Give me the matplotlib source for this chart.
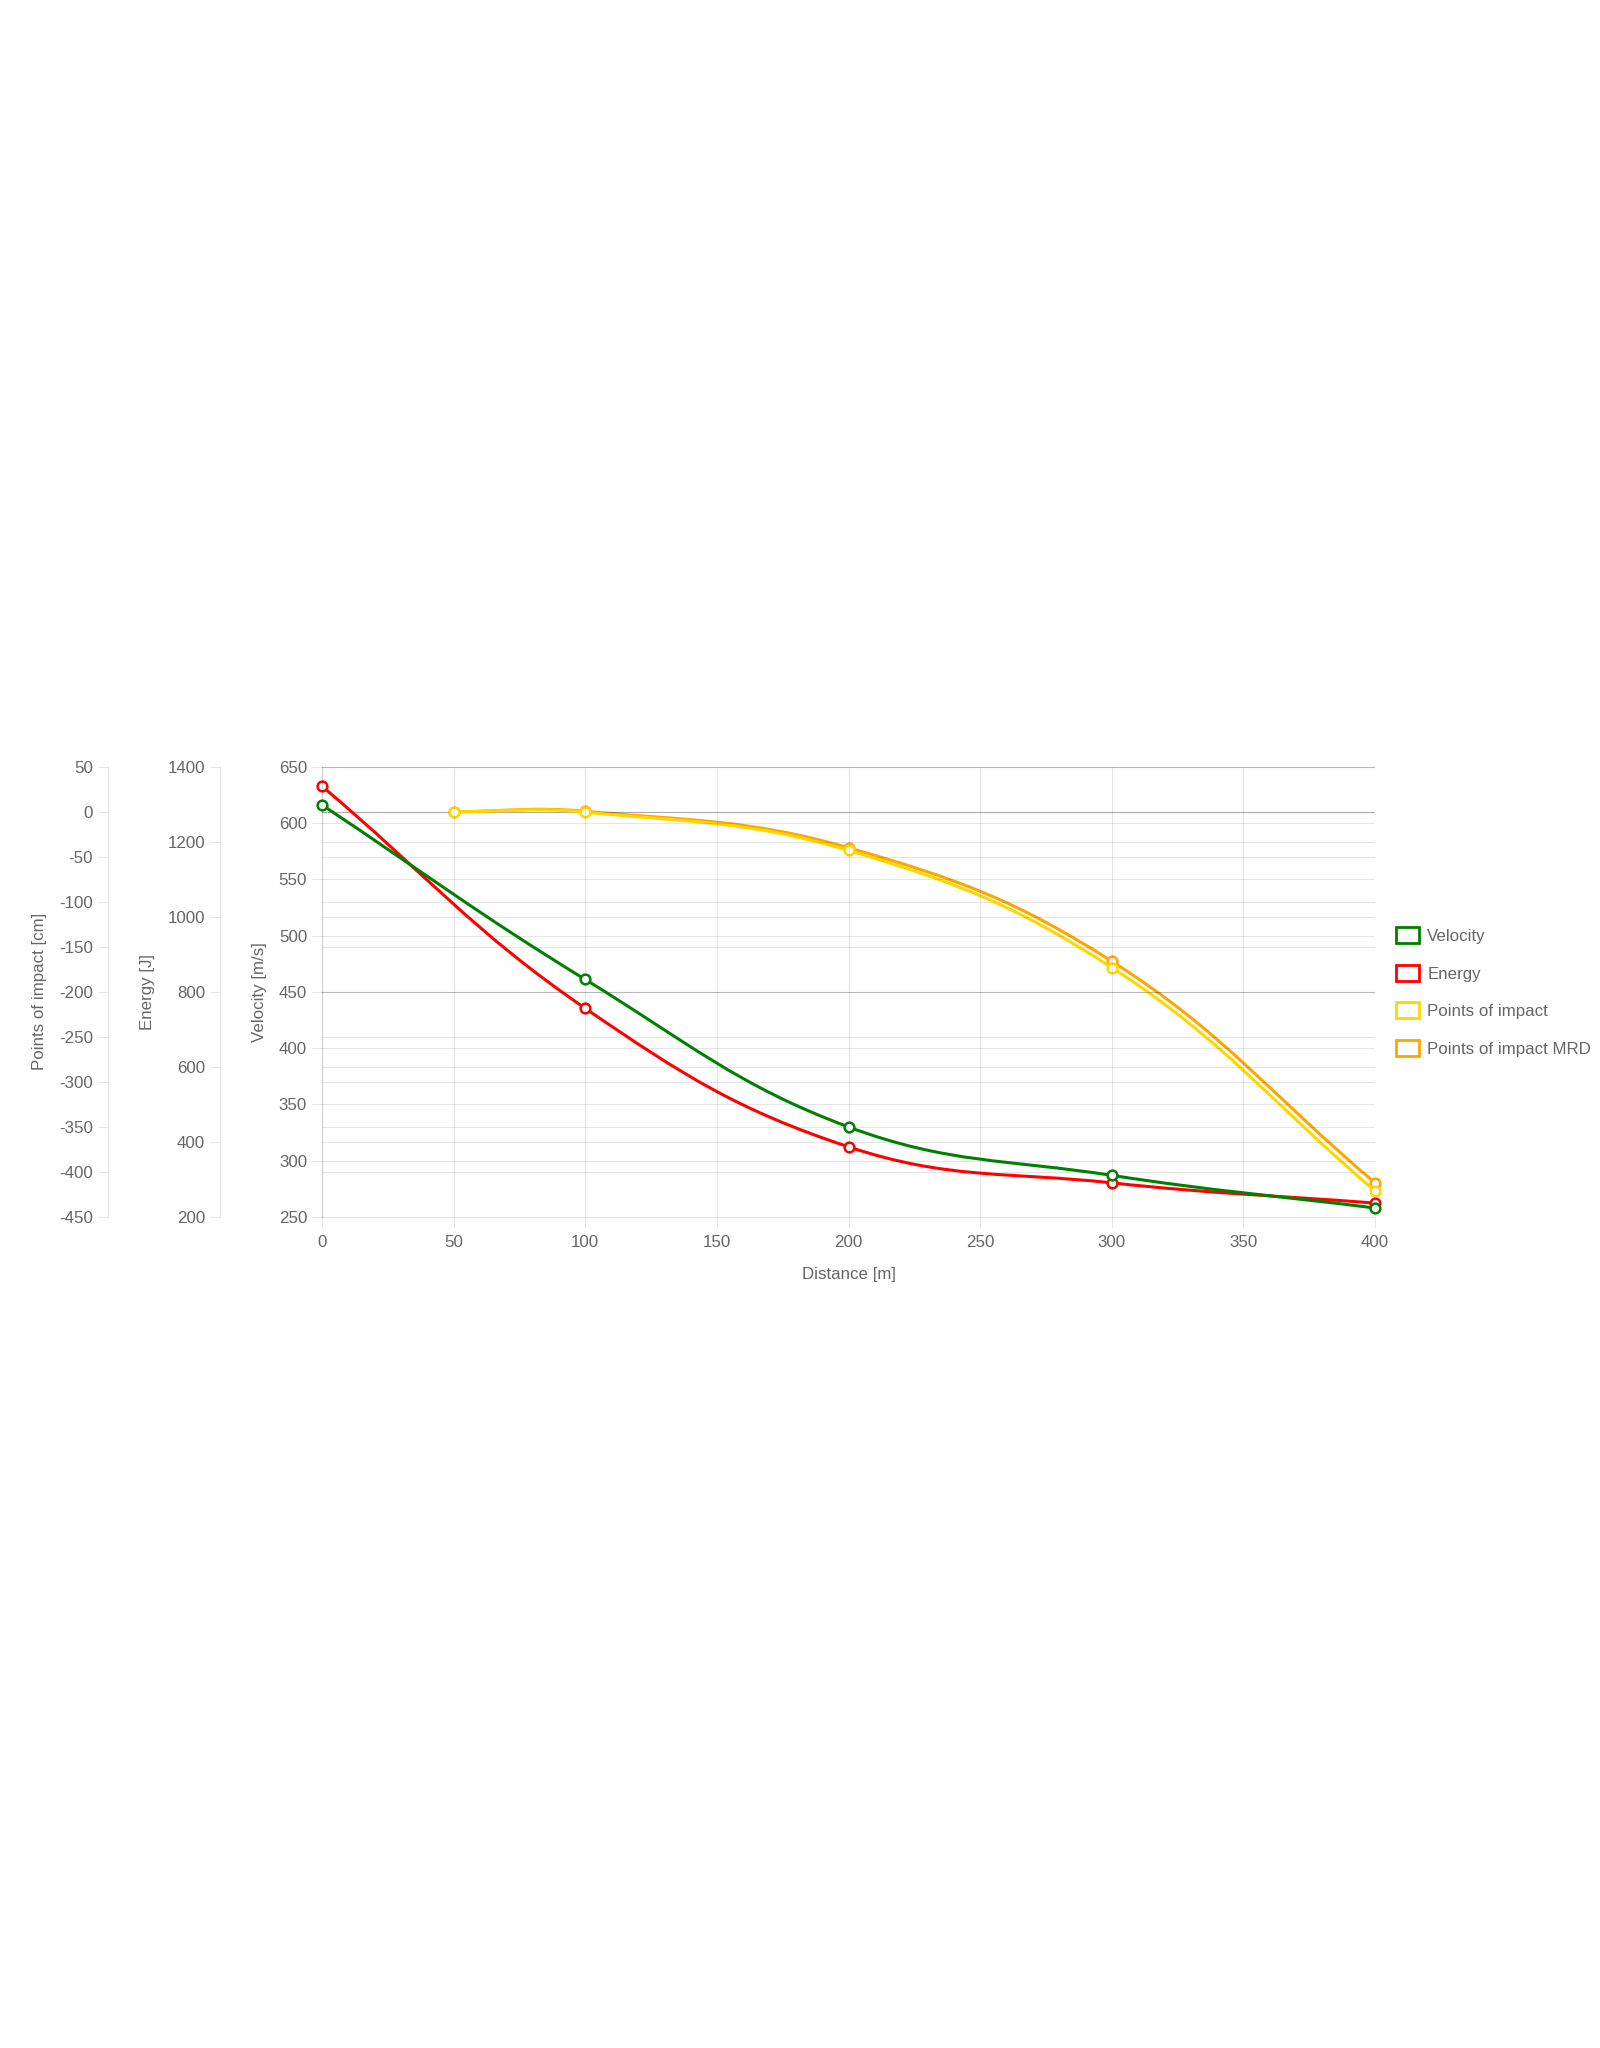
import numpy as np
import matplotlib
matplotlib.use("Agg")
import matplotlib.pyplot as plt
from matplotlib.path import Path
from matplotlib.patches import PathPatch, Patch

plt.rcParams['font.family'] = ['Liberation Sans', 'DejaVu Sans']
plt.rcParams['axes.unicode_minus'] = False

# data
dist_main = [0, 100, 200, 300, 400]
velocity = [616, 461, 330, 287, 258]
energy = [1348, 756, 387, 291, 237]

dist_poi = [50, 100, 200, 300, 400]
poi = [0, -0.5, -43, -173, -421]
poi_mrd = [0, 0.5, -40, -166, -412]

x_ticks = np.arange(0, 401, 50)
vel_ticks = np.arange(250, 651, 50)
en_ticks = np.arange(200, 1401, 200)
poi_ticks = np.arange(-450, 51, 50)

TXT = '#666666'
GRID = (0, 0, 0, 0.1)
FS = 12.2

# figure / plot area in pixels
W, H = 1600, 2048
left, right, top, bottom = 322, 1375, 766.7, 1217
pw, ph = right - left, bottom - top


def spline_path(xs, ys, xlim, ylim, t=0.4):
    # Chart.js style bezier (computed in pixel space)
    xs = np.asarray(xs, float)
    ys = np.asarray(ys, float)
    px = (xs - xlim[0]) / (xlim[1] - xlim[0]) * pw
    py = (ys - ylim[0]) / (ylim[1] - ylim[0]) * ph
    n = len(px)
    cp, cn = [], []
    for i in range(n):
        a = max(i - 1, 0)
        b = min(i + 1, n - 1)
        d01 = np.hypot(px[i] - px[a], py[i] - py[a])
        d12 = np.hypot(px[b] - px[i], py[b] - py[i])
        s = d01 + d12
        s01 = d01 / s if s else 0
        s12 = d12 / s if s else 0
        fa, fb = t * s01, t * s12
        pprev = [px[i] - fa * (px[b] - px[a]), py[i] - fa * (py[b] - py[a])]
        pnext = [px[i] + fb * (px[b] - px[a]), py[i] + fb * (py[b] - py[a])]
        for c in (pprev, pnext):
            c[0] = min(max(c[0], 0), pw)
            c[1] = min(max(c[1], 0), ph)
        cp.append(pprev)
        cn.append(pnext)
    verts = [(px[0], py[0])]
    codes = [Path.MOVETO]
    for i in range(n - 1):
        verts += [tuple(cn[i]), tuple(cp[i + 1]), (px[i + 1], py[i + 1])]
        codes += [Path.CURVE4] * 3
    verts = np.array(verts)
    verts[:, 0] = verts[:, 0] / pw * (xlim[1] - xlim[0]) + xlim[0]
    verts[:, 1] = verts[:, 1] / ph * (ylim[1] - ylim[0]) + ylim[0]
    return Path(verts, codes)


fig = plt.figure(figsize=(16, 20.48), dpi=100)
fig.patch.set_facecolor('white')
ax = fig.add_axes([left / W, 1 - bottom / H, pw / W, ph / H])
ax_e = ax.twinx()
ax_p = ax.twinx()

xlim = (0, 400)
axes = [
    (ax_p, poi_ticks, (-450, 50), 'Points of impact [cm]', 322 - 108, 47),
    (ax_e, en_ticks, (200, 1400), 'Energy [J]', 322 - 220, 155),
    (ax, vel_ticks, (250, 650), 'Velocity [m/s]', 0, 267),
]
for a, ticks, lim, lab, off, labx in axes:
    a.set_xlim(*xlim)
    a.set_ylim(*lim)
    a.set_yticks(ticks)
    a.yaxis.set_ticks_position('left')
    a.yaxis.set_label_position('left')
    for s in a.spines.values():
        s.set_visible(False)
    a.spines['left'].set_visible(True)
    a.spines['left'].set_color(GRID)
    a.spines['left'].set_linewidth(0.8)
    a.spines['left'].set_position(('outward', off * 0.72))
    a.tick_params(axis='y', length=7.2, width=0.8, color=GRID, labelcolor=TXT,
                  labelsize=FS, pad=3.5)
    a.grid(axis='y', color='black', alpha=0.1, lw=0.8)
    a.set_ylabel(lab, color=TXT, fontsize=FS)
    a.yaxis.set_label_coords((labx - left) / pw, 0.5)

ax.set_zorder(3)
ax_e.set_zorder(2)
ax_p.set_zorder(1)
ax.patch.set_visible(False)
ax_e.patch.set_visible(False)
ax_p.patch.set_visible(False)

ax_p.axhline(0, color='black', alpha=0.25, lw=0.8)

ax.set_xticks(x_ticks)
ax.grid(axis='x', color='black', alpha=0.1, lw=0.8)
ax.spines['bottom'].set_visible(True)
ax.spines['bottom'].set_color(GRID)
ax.spines['bottom'].set_linewidth(0.8)
ax.tick_params(axis='x', length=7.2, width=0.8, color=GRID, labelcolor=TXT,
               labelsize=FS, pad=6)
ax.set_xlabel('Distance [m]', color=TXT, fontsize=FS, labelpad=12)
ax_e.tick_params(axis='x', bottom=False, labelbottom=False, top=False, labeltop=False)
ax_p.tick_params(axis='x', bottom=False, labelbottom=False, top=False, labeltop=False)

series = [
    (ax_p, dist_poi, poi_mrd, '#ffa500', (-450, 50), 1),
    (ax_p, dist_poi, poi, '#ffd700', (-450, 50), 2),
    (ax_e, dist_main, energy, '#ff0000', (200, 1400), 2),
    (ax, dist_main, velocity, '#008000', (250, 650), 2),
]
for a, xs, ys, col, lim, z in series:
    a.add_patch(PathPatch(spline_path(xs, ys, xlim, lim), fill=False,
                          edgecolor=col, lw=2.2, zorder=z, clip_on=False))
    a.plot(xs, ys, 'o', ms=7, mfc='white', mec=col, mew=1.8, zorder=z + 0.5,
           clip_on=False)

handles = [
    Patch(facecolor='white', edgecolor='#008000', lw=2, label='Velocity'),
    Patch(facecolor='white', edgecolor='#ff0000', lw=2, label='Energy'),
    Patch(facecolor='white', edgecolor='#ffd700', lw=2, label='Points of impact'),
    Patch(facecolor='white', edgecolor='#ffa500', lw=2, label='Points of impact MRD'),
]
leg = fig.legend(handles=handles, loc='center left',
                 bbox_to_anchor=(1396 / W, 1 - 992 / H), frameon=False,
                 fontsize=FS, handlelength=1.38, handleheight=1.08,
                 handletextpad=0.46, labelspacing=1.22, borderpad=0,
                 borderaxespad=0)
for t in leg.get_texts():
    t.set_color(TXT)

fig.savefig('out.png', dpi=100, facecolor='white')
